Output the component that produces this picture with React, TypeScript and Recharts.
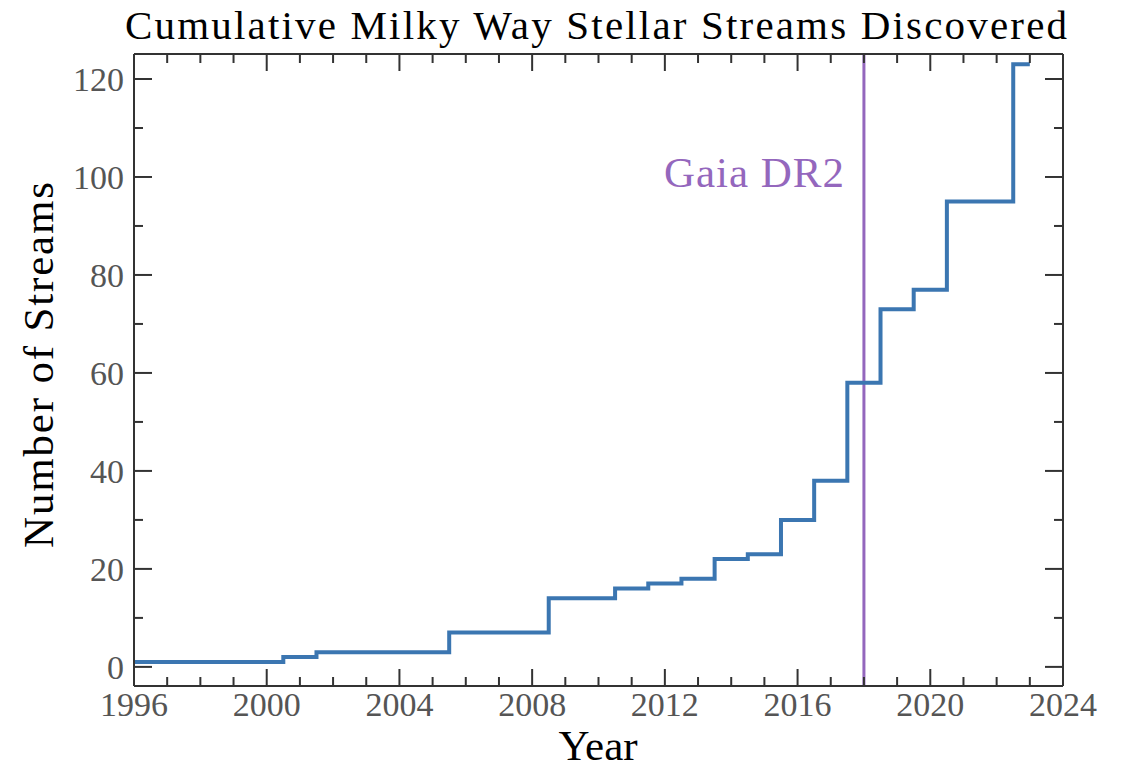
import React from 'react';
import { LineChart, Line, XAxis, YAxis, ReferenceLine } from 'recharts';

const stepYears = [1996, 2000.5, 2001.5, 2005.5, 2008.5, 2010.5, 2011.5, 2012.5, 2013.5, 2014.5, 2015.5, 2016.5, 2017.5, 2018.5, 2019.5, 2020.5, 2022.5, 2023];
const streamCounts = [1, 2, 3, 7, 14, 16, 17, 18, 22, 23, 30, 38, 58, 73, 77, 95, 123, 123];
const xTicks = [1996, 1997, 1998, 1999, 2000, 2001, 2002, 2003, 2004, 2005, 2006, 2007, 2008, 2009, 2010, 2011, 2012, 2013, 2014, 2015, 2016, 2017, 2018, 2019, 2020, 2021, 2022, 2023, 2024];
const yTicks = [0, 10, 20, 30, 40, 50, 60, 70, 80, 90, 100, 110, 120];
const gaiaDR2Year = 2018;
const gaiaLabel = 'Gaia DR2';
const titleText = 'Cumulative Milky Way Stellar Streams Discovered';
const xLabelText = 'Year';
const yLabelText = 'Number of Streams';

const data = stepYears.map((x, i) => ({ x, y: streamCounts[i] }));

const FONT = "'Liberation Serif', 'Times New Roman', Times, 'DejaVu Serif', serif";
const AXIS = '#333333';
const TICKTXT = '#555555';
const BLUE = '#3b76b1';
const PURPLE = '#9467bd';

const BottomTick = (props: any) => {
  const { x, y, payload } = props;
  const v = payload.value;
  const major = v % 4 === 0;
  return (
    <g>
      <line x1={x} y1={y} x2={x} y2={y - (major ? 17 : 9)} stroke={AXIS} strokeWidth={2} />
      {major && (
        <text x={x} y={y + 30} textAnchor="middle" fill={TICKTXT} fontSize={34} style={{ fontFamily: FONT }}>
          {v}
        </text>
      )}
    </g>
  );
};

const TopTick = (props: any) => {
  const { x, y, payload } = props;
  const major = payload.value % 4 === 0;
  return <line x1={x} y1={y} x2={x} y2={y + (major ? 17 : 9)} stroke={AXIS} strokeWidth={2} />;
};

const LeftTick = (props: any) => {
  const { x, y, payload } = props;
  const v = payload.value;
  const major = v % 20 === 0;
  return (
    <g>
      <line x1={x} y1={y} x2={x + (major ? 18 : 9)} y2={y} stroke={AXIS} strokeWidth={2} />
      {major && (
        <text x={x - 10} y={y + 12} textAnchor="end" fill={TICKTXT} fontSize={34} style={{ fontFamily: FONT }}>
          {v}
        </text>
      )}
    </g>
  );
};

const RightTick = (props: any) => {
  const { x, y, payload } = props;
  const major = payload.value % 20 === 0;
  return <line x1={x} y1={y} x2={x - (major ? 18 : 9)} y2={y} stroke={AXIS} strokeWidth={2} />;
};

const GaiaLabel = (props: any) => {
  const vb = props.viewBox || {};
  return (
    <text x={vb.x - 20} y={vb.y + 133} textAnchor="end" fill={PURPLE} fontSize={43} style={{ fontFamily: FONT }}
      textLength={180} lengthAdjust="spacing">
      {gaiaLabel}
    </text>
  );
};

export default function App() {
  return (
    <div style={{ position: 'absolute', left: 0, top: 0, width: 1129, height: 768, background: '#fff' }}>
      <LineChart
        width={1129}
        height={768}
        data={data}
        margin={{ left: 133, right: 65, top: 53, bottom: 81 }}
      >
        <XAxis
          dataKey="x"
          type="number"
          domain={[1996, 2024]}
          ticks={xTicks}
          interval={0}
          height={1}
          tickSize={0}
          tickMargin={0}
          tickLine={false}
          axisLine={{ stroke: AXIS, strokeWidth: 2 }}
          tick={<BottomTick />}
          allowDataOverflow
        />
        <XAxis
          xAxisId="top"
          orientation="top"
          dataKey="x"
          type="number"
          domain={[1996, 2024]}
          ticks={xTicks}
          interval={0}
          height={1}
          tickSize={0}
          tickMargin={0}
          tickLine={false}
          axisLine={{ stroke: AXIS, strokeWidth: 2 }}
          tick={<TopTick />}
          allowDataOverflow
        />
        <YAxis
          type="number"
          domain={[-3.9, 125.1]}
          ticks={yTicks}
          interval={0}
          width={1}
          tickSize={0}
          tickMargin={0}
          tickLine={false}
          axisLine={{ stroke: AXIS, strokeWidth: 2 }}
          tick={<LeftTick />}
          allowDataOverflow
        />
        <YAxis
          yAxisId="right"
          orientation="right"
          type="number"
          domain={[-3.9, 125.1]}
          ticks={yTicks}
          interval={0}
          width={1}
          tickSize={0}
          tickMargin={0}
          tickLine={false}
          axisLine={{ stroke: AXIS, strokeWidth: 2 }}
          tick={<RightTick />}
          allowDataOverflow
        />
        <ReferenceLine x={gaiaDR2Year} stroke={PURPLE} strokeWidth={3} label={GaiaLabel} />
        <Line
          dataKey="y"
          type="stepAfter"
          stroke={BLUE}
          strokeWidth={4}
          dot={false}
          activeDot={false}
          isAnimationActive={false}
        />
      </LineChart>
      <svg
        width={1129}
        height={768}
        style={{ position: 'absolute', left: 0, top: 0, pointerEvents: 'none' }}
      >
        <text x={596} y={39} textAnchor="middle" fontSize={41} style={{ fontFamily: FONT }} fill="#000"
          textLength={942} lengthAdjust="spacing">
          {titleText}
        </text>
        <text x={598} y={760} textAnchor="middle" fontSize={43} style={{ fontFamily: FONT }} fill="#000">
          {xLabelText}
        </text>
        <text x={53} y={365} transform="rotate(-90 53 365)" textAnchor="middle" fontSize={43}
          style={{ fontFamily: FONT }} fill="#000" textLength={366} lengthAdjust="spacing">
          {yLabelText}
        </text>
      </svg>
    </div>
  );
}
